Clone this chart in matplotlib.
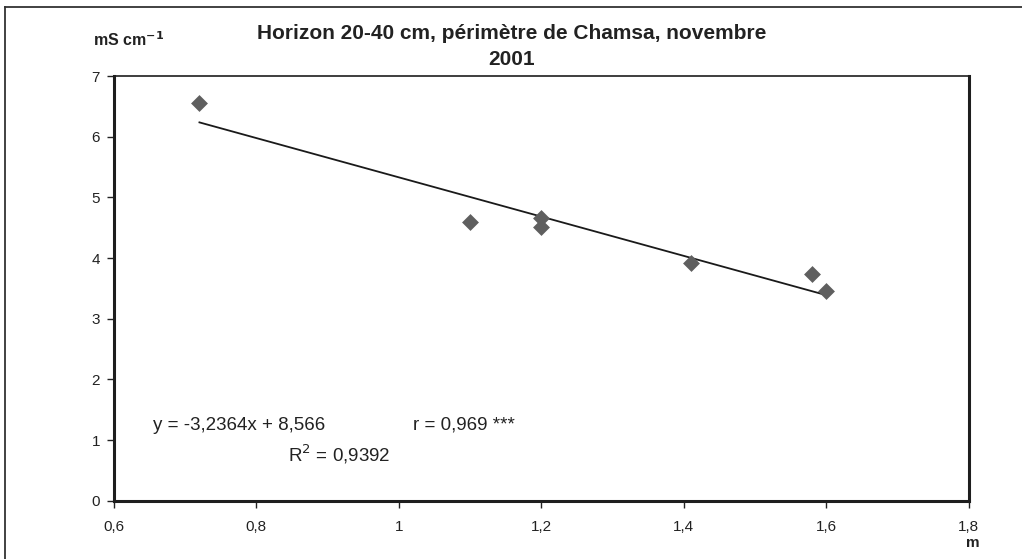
import matplotlib.pyplot as plt
from matplotlib.lines import Line2D

# profondeur de la nappe (m) et conductivité (mS/cm)
depth = [0.72, 1.10, 1.20, 1.20, 1.41, 1.58, 1.60]
ec = [6.55, 4.60, 4.66, 4.51, 3.92, 3.73, 3.46]

# droite de régression donnée sur le graphique
slope = -3.2364
intercept = 8.566

xticks = [0.6, 0.8, 1.0, 1.2, 1.4, 1.6, 1.8]
xlabels = ['0,6', '0,8', '1', '1,2', '1,4', '1,6', '1,8']
yticks = [0, 1, 2, 3, 4, 5, 6, 7]

plt.rcParams['font.family'] = ['Liberation Sans', 'DejaVu Sans']

fig = plt.figure(figsize=(10.22, 5.59), dpi=100)
ax = fig.add_axes([0.1115, 0.1043, 0.8365, 0.7597])

# cadre extérieur (coupé à droite et en bas)
fx = 5 / 1022
fy = 1 - 7 / 559
fig.lines.append(Line2D([fx, fx], [0, fy], transform=fig.transFigure,
                        color='#333333', lw=1.3))
fig.lines.append(Line2D([fx, 1], [fy, fy], transform=fig.transFigure,
                        color='#333333', lw=1.3))

ax.scatter(depth, ec, marker='D', s=8.6 ** 2, color='#5f5f5f', zorder=3,
           linewidths=0)
x0, x1 = min(depth), max(depth)
ax.plot([x0, x1], [slope * x0 + intercept, slope * x1 + intercept],
        color='#1a1a1a', lw=1.3, zorder=2)

ax.set_xlim(0.6, 1.8)
ax.set_ylim(0, 7)
ax.set_xticks(xticks)
ax.set_xticklabels(xlabels)
ax.set_yticks(yticks)
ax.tick_params(direction='out', length=5, width=1, labelsize=11,
               colors='#222222')
ax.tick_params(axis='x', pad=9)
ax.tick_params(axis='y', pad=5)

ax.spines['left'].set_linewidth(2.2)
ax.spines['bottom'].set_linewidth(2.2)
ax.spines['right'].set_linewidth(2.2)
ax.spines['top'].set_linewidth(1.2)
for s in ax.spines.values():
    s.set_color('#1e1e1e')

fig.text(0.501, 1 - 39 / 559, 'Horizon 20-40 cm, périmètre de Chamsa, novembre',
         ha='center', va='baseline', fontsize=15, fontweight='bold',
         color='#222222')
fig.text(0.501, 1 - 65 / 559, '2001', ha='center', va='baseline',
         fontsize=15, fontweight='bold', color='#222222')
fig.text(0.091, 1 - 46 / 559, r'mS cm$^{\mathbf{-1}}$', fontsize=11.5,
         fontweight='bold', color='#222222', ha='left', va='baseline')
fig.text(0.952, 1 - 543 / 559, 'm', fontsize=11, fontweight='bold',
         color='#222222', ha='center', va='center')

fig.text(0.150, 1 - 425 / 559, 'y = -3,2364x + 8,566', fontsize=13.5,
         color='#222222', ha='left', va='center')
fig.text(0.404, 1 - 425 / 559, 'r = 0,969 ***', fontsize=13.5,
         color='#222222', ha='left', va='center')
fig.text(0.282, 1 - 454 / 559, r'R$^2$ = 0,9392', fontsize=13.5,
         color='#222222', ha='left', va='center')

fig.savefig('out.png', dpi=100)
